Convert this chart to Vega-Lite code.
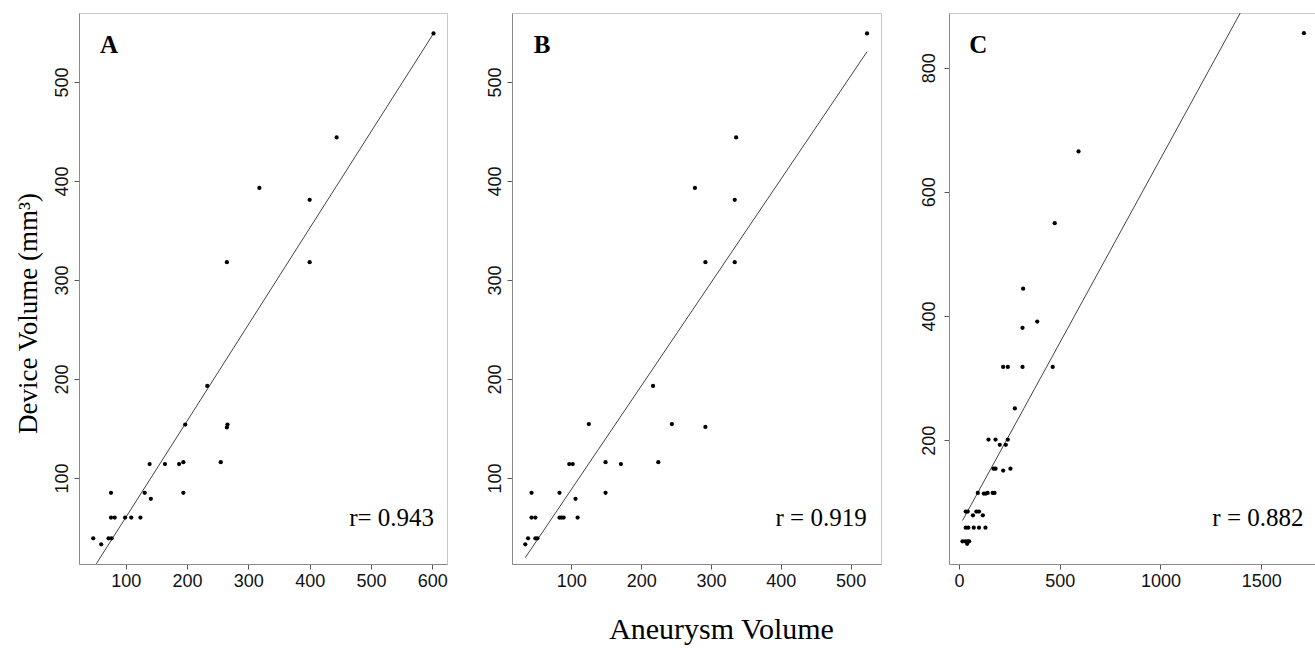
{
  "$schema": "https://vega.github.io/schema/vega-lite/v6.json",
  "padding": {"left": 13, "top": 10, "right": 0, "bottom": 0},
  "spacing": 37,
  "config": {
    "view": {"stroke": "#c8c8c8", "strokeWidth": 1},
    "axis": {"grid": false, "domainColor": "#8a8a8a", "tickColor": "#555555", "tickSize": 5, "labelFont": "Liberation Sans", "labelFontSize": 18, "labelColor": "#111111", "labelPadding": 3, "format": "d", "titleFont": "Liberation Serif", "titleFontWeight": "normal", "titleColor": "#000000", "titleFontSize": 27},
    "axisY": {"labelAngle": -90}
  },
  "datasets": {
    "ptsA": [
      {"aneurysm": 602, "device": 549}, {"aneurysm": 444, "device": 444}, {"aneurysm": 318, "device": 393}, {"aneurysm": 400, "device": 381},
      {"aneurysm": 265, "device": 318}, {"aneurysm": 400, "device": 318}, {"aneurysm": 233, "device": 193}, {"aneurysm": 197, "device": 154},
      {"aneurysm": 266, "device": 154}, {"aneurysm": 265, "device": 151}, {"aneurysm": 255, "device": 116}, {"aneurysm": 194, "device": 116},
      {"aneurysm": 187, "device": 114}, {"aneurysm": 164, "device": 114}, {"aneurysm": 139, "device": 114}, {"aneurysm": 194, "device": 85},
      {"aneurysm": 131, "device": 85}, {"aneurysm": 141, "device": 79}, {"aneurysm": 76, "device": 85}, {"aneurysm": 76, "device": 60},
      {"aneurysm": 82, "device": 60}, {"aneurysm": 99, "device": 60}, {"aneurysm": 109, "device": 60}, {"aneurysm": 124, "device": 60},
      {"aneurysm": 47, "device": 39}, {"aneurysm": 60, "device": 33}, {"aneurysm": 72, "device": 39}, {"aneurysm": 77, "device": 39}
    ],
    "ptsB": [
      {"aneurysm": 523.5, "device": 549}, {"aneurysm": 336, "device": 444}, {"aneurysm": 277, "device": 393}, {"aneurysm": 334, "device": 381},
      {"aneurysm": 292, "device": 318}, {"aneurysm": 334, "device": 318}, {"aneurysm": 217, "device": 193}, {"aneurysm": 125, "device": 154.5},
      {"aneurysm": 244, "device": 154.5}, {"aneurysm": 292, "device": 151.5}, {"aneurysm": 149, "device": 116}, {"aneurysm": 224.5, "device": 116},
      {"aneurysm": 171, "device": 114}, {"aneurysm": 97, "device": 114}, {"aneurysm": 102, "device": 114}, {"aneurysm": 43, "device": 85},
      {"aneurysm": 83, "device": 85}, {"aneurysm": 149, "device": 85}, {"aneurysm": 106, "device": 79}, {"aneurysm": 43, "device": 60},
      {"aneurysm": 48.5, "device": 60}, {"aneurysm": 83, "device": 60}, {"aneurysm": 86, "device": 60}, {"aneurysm": 89, "device": 60},
      {"aneurysm": 109, "device": 60}, {"aneurysm": 38, "device": 39}, {"aneurysm": 34, "device": 33}, {"aneurysm": 48.5, "device": 39},
      {"aneurysm": 51.4, "device": 39}
    ],
    "ptsC": [
      {"aneurysm": 1712, "device": 855.5}, {"aneurysm": 593, "device": 665}, {"aneurysm": 475, "device": 549.5}, {"aneurysm": 318, "device": 444},
      {"aneurysm": 388, "device": 391}, {"aneurysm": 315, "device": 381}, {"aneurysm": 219, "device": 318}, {"aneurysm": 242, "device": 318},
      {"aneurysm": 315, "device": 318}, {"aneurysm": 465, "device": 318}, {"aneurysm": 277, "device": 251}, {"aneurysm": 146, "device": 201},
      {"aneurysm": 181, "device": 201}, {"aneurysm": 242, "device": 201}, {"aneurysm": 202, "device": 192.5}, {"aneurysm": 232, "device": 192.5},
      {"aneurysm": 171, "device": 154}, {"aneurysm": 181, "device": 154}, {"aneurysm": 219, "device": 151}, {"aneurysm": 255, "device": 154},
      {"aneurysm": 93, "device": 115}, {"aneurysm": 123, "device": 114}, {"aneurysm": 133, "device": 114}, {"aneurysm": 142, "device": 115},
      {"aneurysm": 167, "device": 115}, {"aneurysm": 176, "device": 115}, {"aneurysm": 33, "device": 85}, {"aneurysm": 43, "device": 85},
      {"aneurysm": 86, "device": 85}, {"aneurysm": 99, "device": 85}, {"aneurysm": 69, "device": 79}, {"aneurysm": 118, "device": 79},
      {"aneurysm": 33, "device": 59}, {"aneurysm": 46, "device": 59}, {"aneurysm": 73, "device": 59}, {"aneurysm": 99, "device": 59},
      {"aneurysm": 131, "device": 59}, {"aneurysm": 17, "device": 37}, {"aneurysm": 30, "device": 37}, {"aneurysm": 43, "device": 37},
      {"aneurysm": 50, "device": 37}, {"aneurysm": 40, "device": 33}
    ],
    "fitA": [{"aneurysm": 52, "device": 13.3}, {"aneurysm": 602, "device": 549}],
    "fitB": [{"aneurysm": 34, "device": 19.5}, {"aneurysm": 523.5, "device": 530.6}],
    "fitC": [{"aneurysm": 17, "device": 70.5}, {"aneurysm": 1396, "device": 888}],
    "tagA": [{"aneurysm": 58, "device": 529, "label": "A"}],
    "tagB": [{"aneurysm": 46, "device": 529, "label": "B"}],
    "tagC": [{"aneurysm": 50, "device": 824, "label": "C"}],
    "rA": [{"aneurysm": 603, "device": 51.5, "label": "r= 0.943"}],
    "rB": [{"aneurysm": 523, "device": 51.5, "label": "r = 0.919"}],
    "rC": [{"aneurysm": 1710, "device": 61, "label": "r = 0.882"}]
  },
  "hconcat": [
    {
      "width": 368, "height": 551,
      "encoding": {
        "x": {"field": "aneurysm", "type": "quantitative", "scale": {"domain": [23.8, 624], "nice": false, "zero": false}, "axis": {"values": [100, 200, 300, 400, 500, 600], "title": null}},
        "y": {"field": "device", "type": "quantitative", "scale": {"domain": [13.1, 569.7], "nice": false, "zero": false}, "axis": {"values": [100, 200, 300, 400, 500], "title": "Device Volume (mm³)", "titlePadding": 11, "titleY": 300, "titleAlign": "center"}}
      },
      "layer": [
        {"data": {"name": "fitA"}, "mark": {"type": "line", "color": "#444444", "strokeWidth": 1}},
        {"data": {"name": "ptsA"}, "mark": {"type": "circle", "color": "#000000", "opacity": 1, "size": 18}},
        {"data": {"name": "tagA"}, "mark": {"type": "text", "align": "left", "baseline": "alphabetic", "font": "Liberation Serif", "fontSize": 25, "fontWeight": "bold", "color": "#000000"}, "encoding": {"text": {"field": "label"}}},
        {"data": {"name": "rA"}, "mark": {"type": "text", "align": "right", "baseline": "alphabetic", "font": "Liberation Serif", "fontSize": 25, "color": "#000000"}, "encoding": {"text": {"field": "label"}}}
      ]
    },
    {
      "width": 369, "height": 551,
      "encoding": {
        "x": {"field": "aneurysm", "type": "quantitative", "scale": {"domain": [15, 543.5], "nice": false, "zero": false}, "axis": {"values": [100, 200, 300, 400, 500], "title": "Aneurysm Volume", "titleFontSize": 30, "titleX": 209, "titleY": 74, "titleAlign": "center", "titleBaseline": "alphabetic"}},
        "y": {"field": "device", "type": "quantitative", "scale": {"domain": [13.1, 569.7], "nice": false, "zero": false}, "axis": {"values": [100, 200, 300, 400, 500], "title": null}}
      },
      "layer": [
        {"data": {"name": "fitB"}, "mark": {"type": "line", "color": "#444444", "strokeWidth": 1}},
        {"data": {"name": "ptsB"}, "mark": {"type": "circle", "color": "#000000", "opacity": 1, "size": 18}},
        {"data": {"name": "tagB"}, "mark": {"type": "text", "align": "left", "baseline": "alphabetic", "font": "Liberation Serif", "fontSize": 25, "fontWeight": "bold", "color": "#000000"}, "encoding": {"text": {"field": "label"}}},
        {"data": {"name": "rB"}, "mark": {"type": "text", "align": "right", "baseline": "alphabetic", "font": "Liberation Serif", "fontSize": 25, "color": "#000000"}, "encoding": {"text": {"field": "label"}}}
      ]
    },
    {
      "width": 368, "height": 551,
      "encoding": {
        "x": {"field": "aneurysm", "type": "quantitative", "scale": {"domain": [-50, 1777], "nice": false, "zero": false}, "axis": {"values": [0, 500, 1000, 1500], "title": null}},
        "y": {"field": "device", "type": "quantitative", "scale": {"domain": [0.5, 888], "nice": false, "zero": false}, "axis": {"values": [200, 400, 600, 800], "title": null, "labelPadding": 6}}
      },
      "layer": [
        {"data": {"name": "fitC"}, "mark": {"type": "line", "color": "#444444", "strokeWidth": 1}},
        {"data": {"name": "ptsC"}, "mark": {"type": "circle", "color": "#000000", "opacity": 1, "size": 18}},
        {"data": {"name": "tagC"}, "mark": {"type": "text", "align": "left", "baseline": "alphabetic", "font": "Liberation Serif", "fontSize": 25, "fontWeight": "bold", "color": "#000000"}, "encoding": {"text": {"field": "label"}}},
        {"data": {"name": "rC"}, "mark": {"type": "text", "align": "right", "baseline": "alphabetic", "font": "Liberation Serif", "fontSize": 25, "color": "#000000"}, "encoding": {"text": {"field": "label"}}}
      ]
    }
  ]
}
